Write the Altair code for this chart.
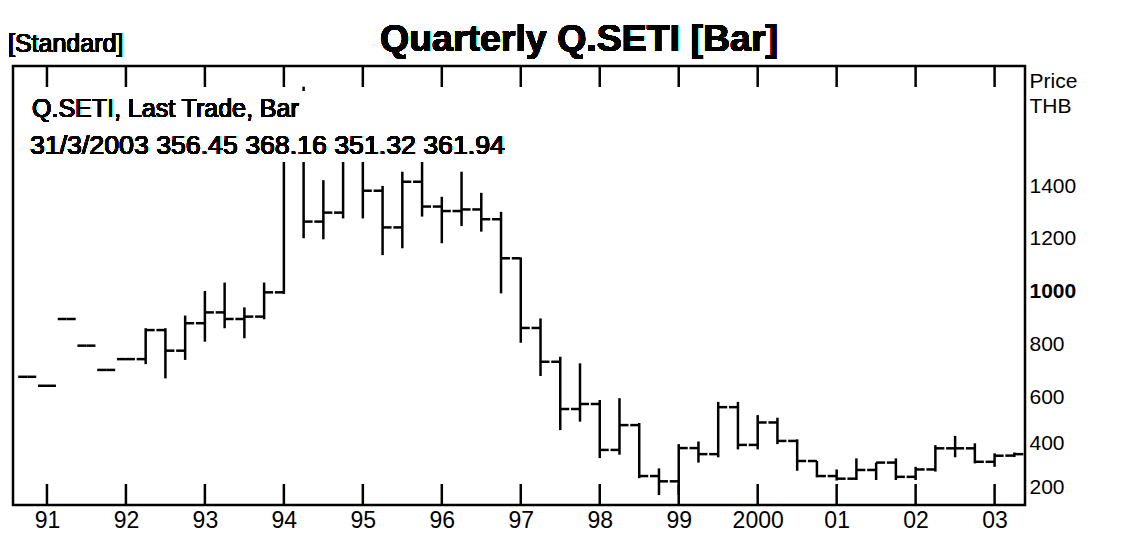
import altair as alt
import pandas as pd

quarters = ["1990Q3", "1990Q4",
            "1991Q1", "1991Q2", "1991Q3", "1991Q4",
            "1992Q1", "1992Q2", "1992Q3", "1992Q4",
            "1993Q1", "1993Q2", "1993Q3", "1993Q4",
            "1994Q1", "1994Q2", "1994Q3", "1994Q4",
            "1995Q1", "1995Q2", "1995Q3", "1995Q4",
            "1996Q1", "1996Q2", "1996Q3", "1996Q4",
            "1997Q1", "1997Q2", "1997Q3", "1997Q4",
            "1998Q1", "1998Q2", "1998Q3", "1998Q4",
            "1999Q1", "1999Q2", "1999Q3", "1999Q4",
            "2000Q1", "2000Q2", "2000Q3", "2000Q4",
            "2001Q1", "2001Q2", "2001Q3", "2001Q4",
            "2002Q1", "2002Q2", "2002Q3", "2002Q4",
            "2003Q1"]
open_ = [655, 621, 874, 773, 681, 722,
         722, 832, 754, 858,
         899, 874, 883, 975,
         1683, 1243, 1277, 1540,
         1360, 1221, 1394, 1300,
         1283, 1289, 1252, 1104,
         840, 712, 533, 552,
         378, 472, 279, 259,
         385, 362, 540, 397,
         482, 412, 336, 279,
         269, 302, 330, 276,
         304, 384, 384, 333,
         356.45]
high = [655, 621, 874, 773, 681, 722,
        839, 839, 887, 980,
        1012, 918, 1012, 1683,
        1754, 1400, 1560, 1580,
        1378, 1432, 1530, 1337,
        1432, 1352, 1280, 1107,
        876, 731, 706, 567,
        574, 480, 308, 400,
        410, 560, 560, 510,
        500, 418, 336, 304,
        346, 330, 346, 314,
        396, 431, 403, 365,
        368.16]
low = [655, 621, 874, 773, 681, 722,
       703, 649, 719, 788,
       839, 801, 873, 969,
       1180, 1176, 1255, 1255,
       1116, 1142, 1262, 1161,
       1226, 1205, 971, 784,
       658, 453, 485, 347,
       360, 271, 207, 207,
       330, 350, 380, 380,
       400, 299, 274, 262,
       264, 264, 264, 264,
       296, 350, 327, 314,
       351.32]
close = [655, 621, 874, 773, 681, 722,
         832, 754, 858, 899,
         874, 883, 975, 1683,
         1243, 1277, 1540, 1360,
         1221, 1394, 1300, 1283,
         1289, 1252, 1104, 840,
         712, 533, 552, 378,
         472, 279, 259, 385,
         362, 540, 397, 482,
         412, 336, 279, 269,
         302, 330, 276, 304,
         384, 384, 333, 356,
         361.94]
year_ticks = list(range(1991, 2004))
price_ticks = [200, 400, 600, 800, 1000, 1200, 1400]

FONT = "Liberation Sans, Arial"
W, H = 1012, 439

df = pd.DataFrame({"q": quarters, "open": open_, "high": high,
                   "low": low, "close": close})
df["t"] = [int(q[:4]) + int(q[-1]) * 0.25 for q in quarters]
ydf = pd.DataFrame({"yr": year_ticks})

xscale = alt.Scale(domain=[1990.57, 2003.385], nice=False, zero=False)
yscale = alt.Scale(domain=[169.3, 1832.5], nice=False, zero=False)

base = alt.Chart(df)
vert = base.mark_rule(color="black", strokeWidth=2.5).encode(
    x=alt.X("t:Q", scale=xscale,
            axis=alt.Axis(values=year_ticks, grid=False, domain=False, ticks=False,
                          labelExpr="datum.value == 2000 ? '2000' : slice(toString(datum.value), 2)",
                          labelFont=FONT, labelFontSize=23, labelPadding=4,
                          labelColor="black", title=None)),
    y=alt.Y("low:Q", scale=yscale,
            axis=alt.Axis(orient="right", values=price_ticks, format="d", grid=False,
                          domain=False, ticks=False, labelFont=FONT, labelFontSize=21,
                          labelPadding=4, labelColor="black", labelBaseline="middle",
                          labelOffset={"condition": [
                              {"test": "datum.value === 200", "value": -9},
                              {"test": "datum.value === 400", "value": -1}], "value": 6},
                          labelFontWeight={"condition": {"test": "datum.value === 1000", "value": "bold"}, "value": "normal"},
                          title=["Price", "THB"], titleAngle=0, titleAlign="left",
                          titleBaseline="top", titleX=4, titleY=4, titleFont=FONT,
                          titleFontSize=21, titleFontWeight="normal", titleColor="black",
                          titleLineHeight=25)),
    y2="high:Q",
)
opent = base.mark_rule(color="black", strokeWidth=2.5, x2Offset=-9).encode(
    x="t:Q", x2="t", y="open:Q")
closet = base.mark_rule(color="black", strokeWidth=2.5, x2Offset=9).encode(
    x="t:Q", x2="t", y="close:Q")

bticks = alt.Chart(ydf).mark_rule(color="black", strokeWidth=2.5).encode(
    x="yr:Q", y=alt.value(H), y2=alt.value(H - 21))
tticks = alt.Chart(ydf).mark_rule(color="black", strokeWidth=2.5).encode(
    x="yr:Q", y=alt.value(0), y2=alt.value(21))

box = alt.Chart(df).mark_rect(color="white").encode(
    x=alt.value(2), x2=alt.value(502), y=alt.value(25), y2=alt.value(96))

last = df.iloc[-1]
line2 = "31/3/2003 {:.2f} {:.2f} {:.2f} {:.2f}".format(last["open"], last["high"], last["low"], last["close"])
txt1 = alt.Chart(df).mark_text(text="Q.SETI, Last Trade, Bar", font=FONT, fontSize=25,
                               align="left", baseline="alphabetic", color="black").encode(
    x=alt.value(19), y=alt.value(51))
txt2 = alt.Chart(df).mark_text(text=line2, font=FONT, fontSize=26.7,
                               align="left", baseline="alphabetic", color="black").encode(
    x=alt.value(17), y=alt.value(88))
title = alt.Chart(df).mark_text(text="Quarterly Q.SETI [Bar]", font=FONT, fontSize=37.5,
                                fontWeight="bold", align="center", baseline="alphabetic",
                                color="black").encode(x=alt.value(566), y=alt.value(-15))
std = alt.Chart(df).mark_text(text="[Standard]", font=FONT, fontSize=25,
                              align="left", baseline="alphabetic", color="black").encode(
    x=alt.value(-5), y=alt.value(-14))

chart = alt.layer(vert, opent, closet, box, txt1, txt2, bticks, tticks, title, std).properties(
    width=W, height=H,
    padding={"left": 5, "top": 58, "right": 90, "bottom": 32},
    autosize=alt.AutoSizeParams(type="none"),
).configure(background="white").configure_view(stroke="black", strokeWidth=2.5)

chart.save("out.html", embed_options={"renderer": "svg", "actions": False})
